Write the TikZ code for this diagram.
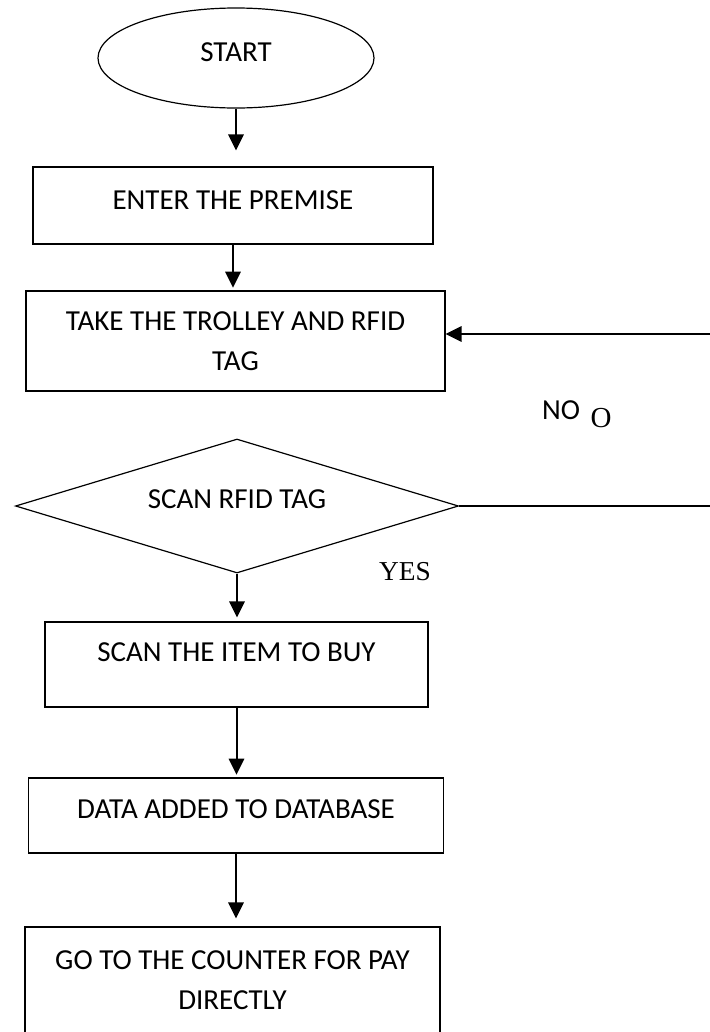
\documentclass[tikz,border=0pt]{standalone}
\usepackage{fontspec}
\setmainfont{Carlito}
\newfontfamily\timesfont{Liberation Serif}
\usetikzlibrary{shapes.geometric,arrows.meta}

\tikzset{every picture/.style={line width=0.75pt}}
\tikzset{
	boxnode/.style={draw, rectangle, line width=0.9pt, inner sep=0pt, align=center, font=\fontsize{21.75}{30}\selectfont},
	upby/.style={text height=14pt, text depth=#1},
	flow/.style={line width=1.5pt, -{Triangle[length=12pt,width=11.5pt]}},
	labeltext/.style={inner sep=0pt, font=\fontsize{21.75}{26}\selectfont},
}

\begin{document}
\begin{tikzpicture}[x=0.75pt,y=0.75pt,yscale=-1]
	\path[use as bounding box] (0,0) rectangle (710,1032);
	\clip (0,0) rectangle (710,1032);

	%Shape: Ellipse [start]
	\node[boxnode, ellipse, minimum width=207pt, minimum height=75pt, upby=9pt] (start) at (236,58) {START};
	%Shape: Rectangle [premise]
	\node[boxnode, minimum width=300pt, minimum height=57.75pt, upby=8.25pt] (premise) at (233,205.5) {ENTER THE PREMISE};
	%Shape: Rectangle [trolley]
	\node[boxnode, minimum width=314.25pt, minimum height=75pt] (trolley) at (235.5,341) {TAKE THE TROLLEY AND RFID\\TAG};
	%Shape: Diamond [scan]
	\node[boxnode, diamond, aspect=3.3, minimum width=332.25pt, minimum height=100.5pt, upby=10.5pt] (scan) at (237,506) {SCAN RFID TAG};
	%Shape: Rectangle [item]
	\node[boxnode, minimum width=287.25pt, minimum height=63.75pt, upby=18.75pt] (item) at (236.5,664.5) {SCAN THE ITEM TO BUY};
	%Shape: Rectangle [data]
	\node[boxnode, minimum width=311.25pt, minimum height=56.25pt, upby=9.75pt] (data) at (236,815.5) {DATA ADDED TO DATABASE};
	%Shape: Rectangle [pay]
	\node[boxnode, minimum width=311.25pt, minimum height=79.5pt] (pay) at (232.5,980) {GO TO THE COUNTER FOR PAY\\DIRECTLY};

	% Text Node
	\node[labeltext] (nolabel) at (561,410) {NO};
	% Text Node
	\node[labeltext, font=\timesfont\fontsize{21.75}{26}\selectfont] (olabel) at (601,418.5) {O};
	% Text Node
	\node[labeltext, font=\timesfont\fontsize{20.5}{24}\selectfont] (yeslabel) at (405,572) {YES};

	%loop ends at the right edge
	\coordinate (backin) at (710,334);
	\coordinate (backout) at (710,509);

	%Straight Lines
	\draw[flow, shorten >=12pt] (start.south) -- (start.south |- premise.north);
	\draw[flow, shorten >=2pt] (premise.south) -- (premise.south |- trolley.north);
	\draw[flow] (backin) -- (backin -| trolley.east);
	\draw[line width=1.5pt] (scan.east) -- (scan.east -| backout);
	\draw[flow, shorten >=3pt] (scan.south) -- (scan.south |- item.north);
	\draw[flow, shorten >=2pt] (item.south) -- (item.south |- data.north);
	\draw[flow, shorten >=6pt] (data.south) -- (data.south |- pay.north);
\end{tikzpicture}
\end{document}
